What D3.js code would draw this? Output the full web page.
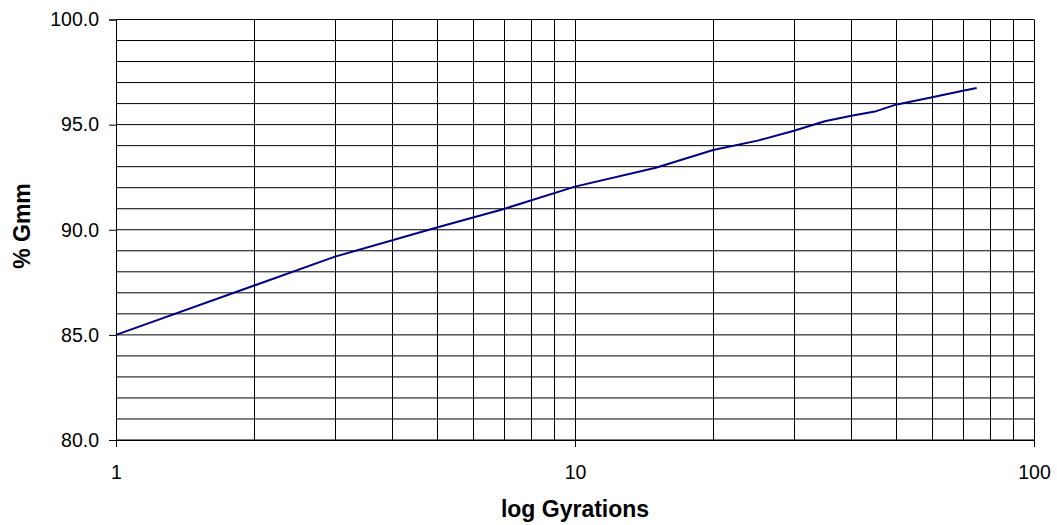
<!DOCTYPE html>
<html>
<head>
<meta charset="utf-8">
<script src="https://cdn.jsdelivr.net/npm/d3@7"></script>
<style>
    body { margin: 0; background: #fff; }
    svg { display: block; font-family: "Liberation Sans", Arial, sans-serif; }
    .tick text { font-size: 19.5px; fill: #000; }
    .axis-title { font-size: 23px; font-weight: bold; fill: #000; }
</style>
</head>
<body>
<div id="chart"></div>
<script>
// Data
var gyrations = [1, 3, 5, 7, 10, 15, 20, 25, 30, 35, 40, 45, 50, 60, 70, 75];
var gmm = [85.0, 88.72, 90.11, 90.99, 92.05, 92.95, 93.79, 94.24, 94.71, 95.16, 95.42, 95.62, 95.95, 96.3, 96.61, 96.74];

var xTicks = [1, 10, 100];
var yTicks = [80, 85, 90, 95, 100];
var xGrid = [1, 2, 3, 4, 5, 6, 7, 8, 9, 10, 20, 30, 40, 50, 60, 70, 80, 90, 100];
var yGrid = d3.range(80, 101, 1);

var width = 1057, height = 525;
var margin = {top: 19.5, right: 23, bottom: 85, left: 116};

var svg = d3.select("#chart").append("svg")
    .attr("width", width)
    .attr("height", height);

var x = d3.scaleLog()
    .domain([1, 100])
    .range([margin.left, width - margin.right]);

var y = d3.scaleLinear()
    .domain([80, 100])
    .range([height - margin.bottom, margin.top]);

// Grid lines
svg.append("g")
    .selectAll("line")
    .data(yGrid)
    .enter().append("line")
    .attr("x1", x(1))
    .attr("x2", x(100))
    .attr("y1", function(d) { return y(d); })
    .attr("y2", function(d) { return y(d); })
    .attr("stroke", "#000")
    .attr("stroke-width", 1);

svg.append("g")
    .selectAll("line")
    .data(xGrid)
    .enter().append("line")
    .attr("x1", function(d) { return Math.round(x(d)) + 0.5; })
    .attr("x2", function(d) { return Math.round(x(d)) + 0.5; })
    .attr("y1", y(100))
    .attr("y2", y(80))
    .attr("stroke", "#000")
    .attr("stroke-width", 1);

// Axes
var xAxis = svg.append("g")
    .attr("transform", "translate(0," + y(80) + ")")
    .call(d3.axisBottom(x).tickValues(xTicks).tickFormat(d3.format("d")).tickSize(7).tickPadding(18));

var yAxis = svg.append("g")
    .attr("transform", "translate(" + x(1) + ",0)")
    .call(d3.axisLeft(y).tickValues(yTicks).tickFormat(d3.format(".1f")).tickSize(7).tickPadding(10));

svg.selectAll(".domain").attr("stroke", "#000");
svg.selectAll(".tick line").attr("stroke", "#000");
svg.selectAll(".tick text").attr("font-family", "Liberation Sans, Arial, sans-serif").attr("font-size", "19.5px");

// Series line
var line = d3.line()
    .x(function(d, i) { return x(gyrations[i]); })
    .y(function(d) { return y(d); });

svg.append("path")
    .datum(gmm)
    .attr("d", line)
    .attr("fill", "none")
    .attr("stroke", "#000080")
    .attr("stroke-width", 2);

// Axis titles
svg.append("text")
    .attr("class", "axis-title")
    .attr("x", x(10))
    .attr("y", 517)
    .attr("text-anchor", "middle")
    .text("log Gyrations");

svg.append("text")
    .attr("class", "axis-title")
    .attr("transform", "translate(30," + 226 + ") rotate(-90)")
    .attr("text-anchor", "middle")
    .text("% Gmm");
</script>
</body>
</html>
